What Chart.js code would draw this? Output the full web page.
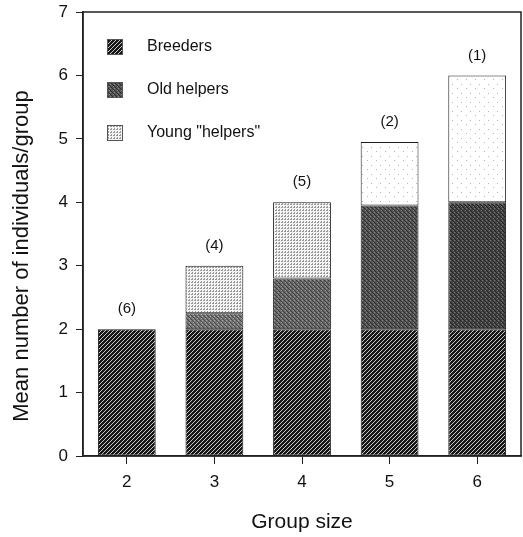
<!DOCTYPE html>
<html>
<head>
<meta charset="utf-8">
<script src="https://cdn.jsdelivr.net/npm/chart.js@4"></script>
<style>
  html, body { margin: 0; padding: 0; background: #fff; }
</style>
</head>
<body>
<canvas id="myChart" width="523" height="537"></canvas>
<script>
// Values
var groupSizes = ['2', '3', '4', '5', '6'];
var breeders = [2, 2, 2, 2, 2];
var oldHelpers = [0, 0.25, 0.8, 1.95, 2];
var youngHelpers = [0, 0.75, 1.2, 1.0, 2];
var groupCounts = ['(6)', '(4)', '(5)', '(2)', '(1)'];
var yTicks = [0, 1, 2, 3, 4, 5, 6, 7];

var FONT = "'Liberation Sans', Arial, Helvetica, sans-serif";
var canvas = document.getElementById('myChart');
var ctx = canvas.getContext('2d');

// build a small repeating texture; cell(x, y) returns a colour or null
function texture(size, bg, cell) {
  var c = document.createElement('canvas');
  c.width = c.height = size;
  var g = c.getContext('2d');
  g.fillStyle = bg;
  g.fillRect(0, 0, size, size);
  for (var x = 0; x < size; x++) {
    for (var y = 0; y < size; y++) {
      var col = cell(x, y);
      if (col) { g.fillStyle = col; g.fillRect(x, y, 1, 1); }
    }
  }
  return ctx.createPattern(c, 'repeat');
}

// breeders: dark diagonal hatching
var hatch = texture(4, '#181818', function (x, y) { return (x + y) % 4 === 3 ? '#c8c8c8' : null; });
// old helpers: grey stipple, darker in the bigger groups
function stipple(bg, dark, light) {
  return texture(4, bg, function (x, y) {
    if ((x * 3 + y) % 4 === 0) return dark;
    if ((x + y * 3) % 5 === 2) return light;
    return null;
  });
}
var oldFill = [stipple('#777', '#444', '#aaa'), stipple('#777', '#444', '#aaa'), stipple('#6a6a6a', '#3a3a3a', '#999'),
               stipple('#555', '#2a2a2a', '#888'), stipple('#474747', '#1e1e1e', '#7a7a7a')];
// young helpers: light dots
var dotted = texture(3, '#f4f4f4', function (x, y) { return (x === 0 || y === 0) && (x + y) % 2 === 0 ? '#9a9a9a' : null; });
var sparse = texture(9, '#ffffff', function (x, y) { return (x === 2 && y === 3) || (x === 7 && y === 7) ? '#b5b5b5' : null; });
var youngFill = [dotted, dotted, dotted, sparse, sparse];

var countLabels = {
  id: 'countLabels',
  afterDatasetsDraw: function (chart) {
    var c = chart.ctx, xs = chart.scales.x, ys = chart.scales.y;
    c.save();
    c.font = '15px ' + FONT;
    c.fillStyle = '#111';
    c.textAlign = 'center';
    c.textBaseline = 'middle';
    groupCounts.forEach(function (txt, i) {
      var total = breeders[i] + oldHelpers[i] + youngHelpers[i];
      c.fillText(txt, xs.getPixelForValue(i), ys.getPixelForValue(total) - 20);
    });
    c.restore();
  }
};

var frameAndLegend = {
  id: 'frameAndLegend',
  afterDraw: function (chart) {
    var c = chart.ctx, a = chart.chartArea;
    c.save();
    c.strokeStyle = '#222';
    c.lineWidth = 1.5;
    c.strokeRect(a.left, a.top, a.right - a.left, a.bottom - a.top);
    // y title, sitting a little below the middle as in the original
    c.fillStyle = '#111';
    c.font = '22px ' + FONT;
    c.textAlign = 'center';
    c.textBaseline = 'middle';
    c.translate(22, (a.top + a.bottom) / 2 + 22);
    c.rotate(-Math.PI / 2);
    c.fillText('Mean number of individuals/group', 0, 0);
    c.setTransform(1, 0, 0, 1, 0, 0);
    // legend inside the plot, top left
    c.font = '16px ' + FONT;
    c.textAlign = 'left';
    chart.data.datasets.forEach(function (ds, i) {
      var x = a.left + 24, y = a.top + 35 + i * 43;
      c.fillStyle = ds.legendFill;
      c.fillRect(x, y - 8, 16, 16);
      c.lineWidth = 1;
      c.strokeStyle = '#555';
      c.strokeRect(x + 0.5, y - 7.5, 15, 15);
      c.fillStyle = '#111';
      c.fillText(ds.label, x + 40, y);
    });
    c.restore();
  }
};

var myChart = new Chart(ctx, {
  type: 'bar',
  data: {
    labels: groupSizes,
    datasets: [
      { label: 'Breeders', data: breeders, backgroundColor: hatch, legendFill: hatch },
      { label: 'Old helpers', data: oldHelpers, backgroundColor: oldFill, legendFill: oldFill[3] },
      { label: 'Young "helpers"', data: youngHelpers, backgroundColor: youngFill, legendFill: dotted }
    ]
  },
  options: {
    responsive: false,
    animation: false,
    devicePixelRatio: 1,
    layout: { padding: { top: 12, right: 2, left: 0, bottom: 0 } },
    datasets: {
      bar: { barPercentage: 0.66, categoryPercentage: 1, borderColor: '#1a1a1a', borderWidth: 1, borderSkipped: false }
    },
    plugins: { legend: { display: false }, tooltip: { enabled: false } },
    scales: {
      x: {
        stacked: true,
        offset: true,
        grid: { display: true, drawOnChartArea: false, drawTicks: true, tickLength: 8, color: '#222', offset: false },
        border: { display: true, color: '#222', width: 1.5 },
        ticks: { color: '#111', font: { family: FONT, size: 17 }, padding: 8 },
        title: { display: true, text: 'Group size', color: '#111', font: { family: FONT, size: 21 }, padding: { top: 2, bottom: 2 } },
        afterFit: function (s) { s.height = 81; s.paddingLeft = 0; s.paddingRight = 0; }
      },
      y: {
        stacked: true,
        min: 0,
        max: 7,
        afterBuildTicks: function (s) { s.ticks = yTicks.map(function (v) { return { value: v }; }); },
        grid: { display: true, drawOnChartArea: false, drawTicks: true, tickLength: 7, color: '#222' },
        border: { display: true, color: '#222', width: 1.5 },
        ticks: { color: '#111', font: { family: FONT, size: 17 }, padding: 8 },
        title: { display: false },
        afterFit: function (s) { s.width = 83; s.paddingTop = 0; s.paddingBottom = 0; }
      }
    }
  },
  plugins: [countLabels, frameAndLegend]
});
</script>
</body>
</html>
